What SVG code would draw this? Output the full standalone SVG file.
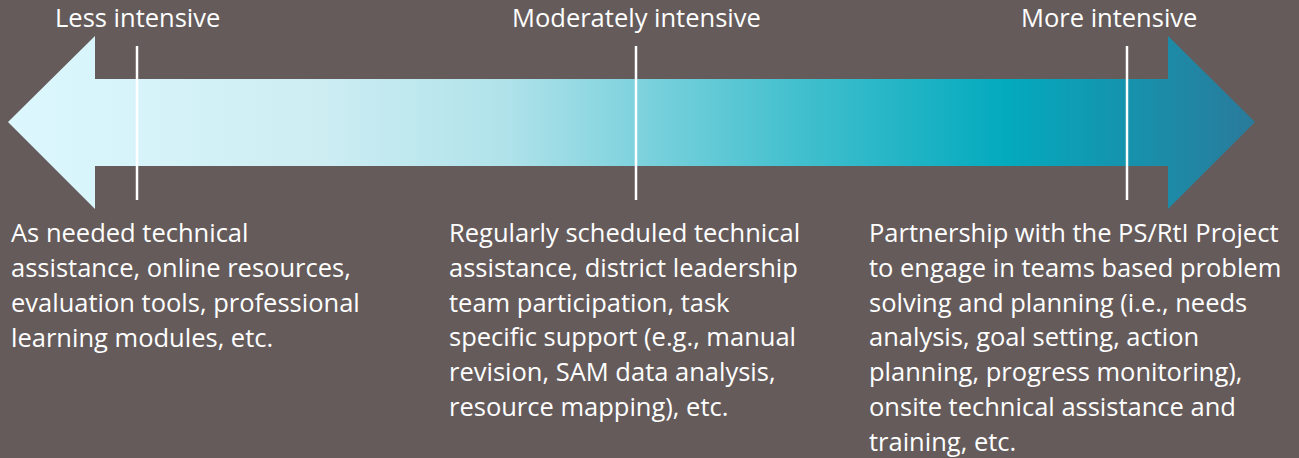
<svg xmlns="http://www.w3.org/2000/svg" width="1299" height="458" viewBox="0 0 1299 458">
  <defs>
    <linearGradient id="grad" gradientUnits="userSpaceOnUse" x1="8" y1="0" x2="1255" y2="0">
      <stop offset="0" stop-color="#DCF8FE"/>
      <stop offset="0.25" stop-color="#CDEDF3"/>
      <stop offset="0.4" stop-color="#B0E2EA"/>
      <stop offset="0.5" stop-color="#80D3DE"/>
      <stop offset="0.63" stop-color="#44C0CE"/>
      <stop offset="0.8" stop-color="#03AABE"/>
      <stop offset="1" stop-color="#2A7A9B"/>
    </linearGradient>
  </defs>
  <style>
    .lbl { font-family: "Open Sans", "Liberation Sans", sans-serif; font-size: 25.5px; fill: #FFFFFF; }
    .body { font-family: "Open Sans", "Liberation Sans", sans-serif; font-size: 25.5px; fill: #FFFFFF; }
    .tick { stroke: #FFFFFF; stroke-width: 2.5; }
  </style>
  <rect x="0" y="0" width="1299" height="458" fill="#655B5B"/>
  <g id="arrow">
    <polygon points="8,122 95,36 95,79 1168,79 1168,36 1255,122 1168,209 1168,166 95,166 95,209" fill="url(#grad)"/>
  </g>
  <g id="connectors">
    <line class="tick" x1="137" y1="46" x2="137" y2="200"/>
    <line class="tick" x1="636" y1="46" x2="636" y2="200"/>
    <line class="tick" x1="1127" y1="46" x2="1127" y2="200"/>
  </g>
  <g id="less">
    <text class="lbl" x="55" y="27">Less intensive</text>
    <text class="body" x="11">
      <tspan x="11" y="242">As needed technical</tspan>
      <tspan x="11" y="277">assistance, online resources,</tspan>
      <tspan x="11" y="312">evaluation tools, professional</tspan>
      <tspan x="11" y="347">learning modules, etc.</tspan>
    </text>
  </g>
  <g id="moderate">
    <text class="lbl" x="512" y="27">Moderately intensive</text>
    <text class="body" x="449">
      <tspan x="449" y="242">Regularly scheduled technical</tspan>
      <tspan x="449" y="277">assistance, district leadership</tspan>
      <tspan x="449" y="312">team participation, task</tspan>
      <tspan x="449" y="346">specific support (e.g., manual</tspan>
      <tspan x="449" y="381">revision, SAM data analysis,</tspan>
      <tspan x="449" y="416">resource mapping), etc.</tspan>
    </text>
  </g>
  <g id="more">
    <text class="lbl" x="1021" y="27">More intensive</text>
    <text class="body" x="869">
      <tspan x="869" y="242">Partnership with the PS/RtI Project</tspan>
      <tspan x="869" y="277">to engage in teams based problem</tspan>
      <tspan x="869" y="312">solving and planning (i.e., needs</tspan>
      <tspan x="869" y="346">analysis, goal setting, action</tspan>
      <tspan x="869" y="381">planning, progress monitoring),</tspan>
      <tspan x="869" y="416">onsite technical assistance and</tspan>
      <tspan x="869" y="451">training, etc.</tspan>
    </text>
  </g>
</svg>
